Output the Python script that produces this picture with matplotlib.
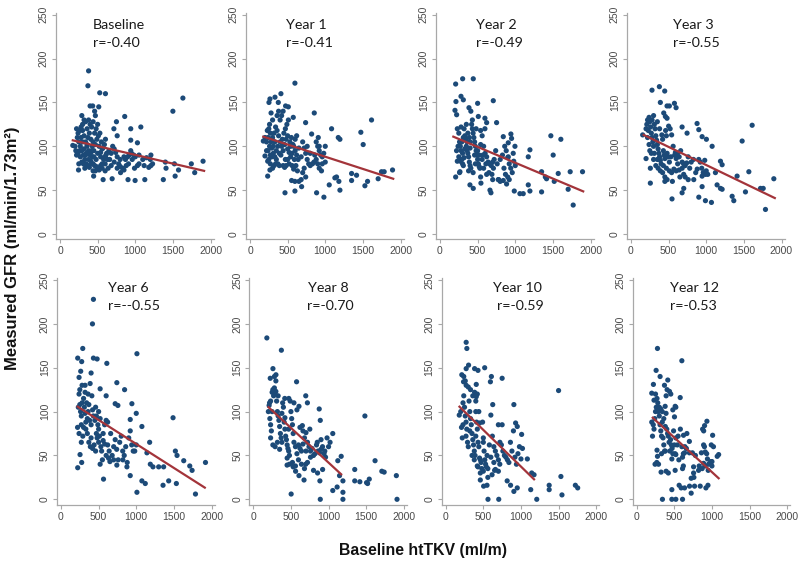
import matplotlib
matplotlib.use("Agg")
import matplotlib.pyplot as plt

# ---------------- data ----------------
panel_titles = ["Baseline", "Year 1", "Year 2", "Year 3", "Year 6", "Year 8", "Year 10", "Year 12"]
panel_r = ["r=-0.40", "r=-0.41", "r=-0.49", "r=-0.55", "r=--0.55", "r=-0.70", "r=-0.59", "r=-0.53"]

x_ticks = [0, 500, 1000, 1500, 2000]
y_ticks = [0, 50, 100, 150, 200, 250]

baseline_pts = [
    (380,186),(371,169),(528,161),(604,160),(515,145),(400,146),(434,146),(460,140),(470,135),(290,135),
    (1633,155),(1500,140),(860,134),(1074,122),(940,120),(750,128),(716,120),(760,112),(940,107),(1029,104),
    (604,108),(940,95),(693,63),(573,62),(904,62),(998,61),(1127,62),(1373,62),(1530,66),(1790,70),
    (1901,83),(1745,80),(1575,73),(1409,75),(1208,78),(1208,90),(1118,78),(1029,78),(850,73),(805,70),
    (447,66),(246,73),(170,101),
    (700,100),(720,97),(740,93),(760,88),(780,80),(800,77),(830,75),(870,85),(900,88),(920,90),
    (950,92),(960,85),(980,90),(1000,88),(1050,80),(1100,85),(1150,87),(1200,85),(1230,80),(1400,82),
    (1520,80),(880,78),(910,80),(650,95),(620,92),(660,85),(680,78),(640,75),(600,80),(560,75),
    (540,88),(520,100),(500,92),(480,85),(460,78),(440,72),(420,80),(400,90),(380,95),(360,100),
    (340,105),(320,112),(300,118),(280,122),(260,118),(240,115),(220,120),(230,110),(250,105),(270,100),
    (290,95),(310,90),(330,85),(350,80),(370,78),(390,76),(410,83),(430,88),(450,95),(470,102),
    (490,108),(510,112),(530,115),(550,105),(570,98),(590,102),(610,90),(630,85),(460,115),(420,122),
    (440,128),(380,130),(400,125),(360,120),(340,128),(300,105),(280,110),(260,95),(240,92),(220,90),
    (200,100),(210,95),(320,97),(350,92),(370,110),(390,115),(410,108),(430,100),(450,88),(480,77),
    (500,75),(520,73),(560,80),(580,85),(470,72),(310,80),(290,82),(270,88),(330,75),(250,80),
    (420,95),(440,105),(480,120),(500,125),(540,93),(560,97),(600,88),(380,85),(340,90),(300,125),
    (320,130),(360,102),(410,93),(440,80),(540,78),(600,72),(680,92),(720,82),(760,75),(800,85),
    (850,88),(990,75),(1050,90),(1180,76),
]

year1_pts = [
    (597,172),(411,160),(332,156),(265,154),(252,150),(376,150),(473,146),(509,145),(575,133),(854,138),
    (1615,130),(1084,120),(739,127),(620,112),(1473,116),(1504,102),(1173,110),(1195,108),(907,110),(819,114),
    (465,47),(885,47),(982,42),(597,49),(553,61),(597,60),(686,54),(1053,56),(1181,60),(1195,50),
    (1128,64),(1150,65),(1350,61),(1350,69),(1416,67),(1527,55),(1562,60),(1703,63),(1748,71),(1783,71),
    (1894,73),(235,66),(265,73),(177,106),(199,89),(235,83),
    (700,105),(720,98),(740,92),(760,85),(780,80),(800,78),(830,80),(860,90),(880,85),(900,100),
    (920,95),(940,90),(960,88),(980,92),(1000,100),(900,80),(920,75),(950,72),(700,70),(680,62),
    (650,60),(720,75),(740,65),(640,85),(620,90),(600,95),(580,100),(560,92),(540,88),(520,80),
    (500,85),(480,78),(460,76),(440,95),(420,100),(400,105),(380,112),(360,118),(340,122),(320,115),
    (300,110),(280,105),(260,100),(240,95),(220,105),(200,110),(230,118),(250,120),(270,115),(290,98),
    (310,92),(330,88),(350,85),(370,80),(390,78),(410,90),(430,108),(450,115),(470,120),(490,125),
    (510,130),(530,105),(550,110),(570,102),(590,85),(610,78),(630,72),(400,130),(420,135),(380,140),
    (440,140),(360,135),(300,130),(280,138),(260,125),(240,110),(220,95),(250,85),(270,90),(290,88),
    (310,100),(330,105),(350,95),(370,100),(390,92),(460,102),(480,108),(500,97),(520,93),(540,100),
    (560,78),(580,74),(300,75),(320,78),(340,80),(270,80),(440,78),(470,85),(500,112),(600,108),
    (650,98),(680,88),(760,100),(800,92),(850,82),(880,105),(920,100),(960,80),(1000,82),
]

year2_pts = [
    (208,171),(301,177),(442,177),(279,157),(310,153),(500,149),(708,152),(212,151),(199,141),(221,136),
    (385,144),(509,134),(597,132),(620,127),(752,127),(597,120),(1473,112),(1606,108),(1504,90),(1195,96),
    (1173,88),(996,100),(942,114),(951,109),(841,111),(907,104),(973,92),(907,88),
    (664,50),(677,47),(544,58),(398,56),(442,52),(774,62),(841,61),(885,57),(987,49),(1062,46),
    (1106,46),(1173,56),(1195,49),(1350,48),(1350,71),(1416,63),(1518,60),(1571,69),(1703,51),(1730,71),
    (1770,33),(1894,71),(1400,65),(208,65),(265,71),
    (230,120),(250,115),(260,105),(270,100),(280,95),(290,85),(300,80),(310,78),(320,120),(330,112),
    (340,108),(350,100),(360,95),(370,92),(380,88),(390,82),(400,78),(410,75),(420,125),(430,120),
    (440,115),(450,110),(460,105),(470,100),(480,95),(490,90),(500,85),(510,80),(520,77),(530,75),
    (540,118),(560,112),(580,100),(600,92),(620,88),(640,82),(660,80),(680,78),(700,82),(720,85),
    (740,95),(250,88),(270,83),(300,92),(330,97),(360,105),(390,110),(410,140),(430,130),(350,125),
    (310,110),(280,122),(240,100),(220,95),(230,83),(260,70),(380,72),(440,70),(470,80),(500,95),
    (540,102),(570,90),(610,80),(650,70),(690,68),(710,75),(760,80),(800,85),(830,90),(860,100),
    (880,95),(900,87),(920,80),(940,75),(960,70),(980,83),(1000,78),(850,75),(870,68),(900,65),
    (920,62),(780,62),(800,60),(700,62),(620,68),(580,75),(540,65),(460,90),(400,98),(370,115),
    (320,87),(290,105),(400,105),(480,120),(520,90),(560,85),
]

year3_pts = [
    (279,164),(377,168),(448,163),(390,150),(479,146),(510,146),(577,149),(599,144),(435,138),(457,134),
    (479,132),(679,122),(745,115),(878,126),(901,119),(945,111),(1002,108),(1078,100),(1477,106),(1610,124),
    (1189,83),(1211,79),(1122,70),(1144,56),(1189,52),(1211,51),(1344,43),(1366,38),(1410,66),(1566,71),
    (1521,48),(1721,52),(1757,52),(1787,28),(1898,63),
    (545,40),(679,47),(701,52),(901,42),(989,38),(1069,36),(834,62),(945,54),(945,66),(989,68),
    (257,58),(257,75),(200,86),(155,113),
    (200,120),(210,125),(220,130),(230,118),(240,133),(250,128),(260,122),(270,115),(280,110),(290,105),
    (300,100),(310,125),(320,120),(330,112),(340,107),(350,102),(360,97),(370,92),(380,88),(390,84),
    (400,80),(410,113),(420,108),(430,95),(440,90),(450,86),(460,118),(470,112),(480,92),(490,88),
    (500,123),(510,82),(520,120),(540,113),(560,100),(580,90),(600,86),(620,92),(640,88),(660,95),
    (680,82),(700,80),(720,78),(740,81),(760,88),(780,75),(800,82),(830,85),(860,70),(880,74),
    (900,85),(920,82),(940,75),(960,70),(980,84),(1000,72),(1020,68),(220,110),(250,95),(270,92),
    (300,85),(330,78),(360,75),(390,72),(420,70),(450,65),(480,62),(510,72),(540,70),(570,74),
    (600,72),(620,80),(650,65),(680,75),(720,65),(280,130),(300,135),(350,128),(380,120),(240,102),
    (310,92),(350,85),(430,78),(470,75),(530,88),(590,93),(640,73),(700,68),(550,60),(450,60),
    (760,62),
]

year6_pts = [
    (431,228),(418,200),(1009,166),(289,172),(222,161),(431,161),(480,160),(609,155),(275,157),(262,146),
    (400,144),(240,139),(387,132),(742,133),(320,130),(520,126),(600,118),(720,109),(756,107),(1000,98),
    (942,109),(845,125),(1489,93),(1075,83),(920,91),
    (1178,65),(1142,53),(1187,40),(1222,37),(1298,37),(1364,37),(1356,16),(1431,21),(1533,18),(1520,55),
    (1542,50),(1631,44),(1711,38),(1742,33),(1787,6),(1920,42),(1009,8),(1120,18),(1075,21),(920,27),
    (565,23),(222,36),(275,42),(253,51),(742,39),(822,45),(876,37),(631,47),(520,40),
    (220,82),(230,105),(240,120),(250,108),(260,100),(270,95),(280,110),(290,72),(300,115),(310,105),
    (320,98),(330,80),(340,110),(350,75),(360,100),(370,108),(380,90),(390,60),(400,85),(410,118),
    (420,102),(430,95),(440,62),(450,90),(460,105),(470,75),(480,70),(490,85),(500,65),(510,72),
    (520,92),(530,60),(540,55),(560,67),(580,85),(600,90),(620,62),(640,55),(660,75),(680,50),
    (700,60),(720,68),(740,57),(760,45),(780,65),(800,72),(820,55),(840,50),(860,60),(880,42),
    (900,70),(920,78),(940,62),(960,55),(980,55),(1000,62),(250,125),(280,130),(320,122),(360,120),
    (400,70),(240,75),(270,65),(300,82),(330,88),(370,65),(420,58),(460,55),(500,80),(550,45),
    (600,50),(650,43),(700,45),(580,63),(620,88),(470,95),(350,92),(270,85),(500,100),(560,75),
]

year8_pts = [
    (180,184),(373,170),(261,149),(301,142),(225,138),(575,134),(697,118),(418,115),(472,115),(607,106),
    (719,110),(216,110),(876,103),(1483,95),(1056,75),(751,80),(652,84),(890,90),
    (1168,49),(1123,44),(1146,27),(1191,21),(1191,8),(1056,10),(1114,14),(1191,0),(890,0),(885,21),
    (1348,34),(1348,21),(1416,20),(1505,19),(1541,23),(1618,44),(1708,32),(1739,31),(1901,27),(1910,0),
    (1519,18),(503,6),(562,32),(607,27),(674,22),(697,40),(800,33),(854,30),(921,34),(449,39),(530,37),
    (200,100),(210,107),(220,92),(230,85),(240,78),(250,122),(260,125),(270,118),(280,127),(290,120),
    (300,123),(310,112),(320,100),(330,95),(340,90),(350,83),(360,75),(370,70),(380,65),(390,110),
    (400,105),(410,88),(420,80),(430,72),(440,68),(450,62),(460,58),(470,55),(480,50),(490,112),
    (500,100),(510,92),(520,85),(530,75),(540,65),(560,60),(580,52),(600,62),(620,58),(640,55),
    (660,63),(680,70),(700,76),(720,65),(740,60),(760,55),(780,58),(800,50),(820,52),(840,62),
    (860,55),(880,53),(900,57),(920,60),(940,52),(960,48),(980,70),(1000,60),(1020,65),(230,70),
    (260,62),(290,60),(320,65),(350,57),(380,98),(420,93),(450,47),(480,40),(520,42),(560,38),
    (600,45),(640,40),(680,35),(720,42),(760,48),(300,135),(280,140),(330,118),(470,80),(540,110),
    (580,102),(620,82),(660,78),(700,55),(850,65),(900,68),(950,55),(250,100),(230,112),
]

year10_pts = [
    (272,179),(281,172),(304,153),(272,149),(214,142),(384,149),(429,147),(518,150),(607,140),(750,138),
    (594,134),(237,134),(272,130),(406,131),(384,122),(406,117),(1500,124),(625,108),(906,108),(929,87),
    (951,83),(1009,74),
    (1085,46),(1143,30),(1174,28),(1130,11),(1210,0),(1375,16),(1375,11),(1531,26),(1545,5),(1723,16),
    (1754,13),(951,13),(906,9),(817,21),(862,16),(504,15),(549,16),(562,0),(705,0),(460,22),
    (429,37),(616,28),(661,34),(719,40),
    (180,96),(200,100),(210,82),(220,70),(230,110),(240,118),(250,105),(260,95),(270,88),(280,80),
    (290,65),(300,60),(310,112),(320,100),(330,92),(340,85),(350,75),(360,68),(370,62),(380,55),
    (390,50),(400,100),(410,88),(420,80),(430,65),(440,60),(450,47),(460,45),(470,42),(480,35),
    (490,88),(500,70),(510,55),(520,45),(530,40),(540,37),(560,35),(580,62),(600,96),(620,72),
    (640,60),(660,55),(680,50),(700,45),(720,65),(740,62),(760,55),(780,50),(800,48),(820,45),
    (840,42),(860,65),(880,55),(900,78),(920,48),(940,40),(960,52),(980,60),(1000,46),(1020,58),
    (240,140),(260,135),(300,128),(330,125),(360,118),(400,112),(420,120),(440,100),(380,45),(420,38),
    (460,30),(500,32),(550,50),(600,48),(650,33),(700,32),(750,85),(700,85),(230,85),(270,72),
    (320,78),(350,50),(400,72),(450,87),(500,65),(560,25),(640,42),
]

year12_pts = [
    (276,172),(600,158),(258,147),(311,140),(369,130),(413,136),(404,125),(436,123),(453,120),(391,118),
    (578,116),(222,131),(200,121),(511,106),(378,106),(502,94),(933,89),(902,84),(876,80),(1009,73),
    (622,73),(667,75),(1089,51),(991,43),
    (342,0),(467,0),(520,0),(609,0),(467,11),(564,16),(591,13),(636,13),(724,7),(702,15),
    (769,15),(844,15),(947,16),(920,13),(724,24),(756,30),(822,33),(756,37),(609,35),(511,33),
    (391,32),(324,31),(267,42),(244,40),(276,49),(467,46),(520,51),(609,48),(636,53),(911,54),
    (956,40),(1000,38),(991,62),(889,62),(889,41),
    (200,88),(210,72),(220,85),(230,80),(240,92),(250,100),(260,105),(270,115),(280,110),(290,100),
    (300,95),(310,85),(320,78),(330,72),(340,88),(350,70),(360,62),(370,55),(380,83),(390,98),
    (400,80),(410,75),(420,72),(430,65),(440,55),(450,68),(460,62),(470,58),(480,52),(490,78),
    (500,62),(510,52),(520,70),(540,62),(560,45),(580,80),(600,60),(620,52),(640,60),(660,58),
    (700,66),(740,53),(780,50),(860,53),(890,78),(900,60),(930,52),(950,33),(980,42),(1020,60),
    (1070,49),(230,113),(250,120),(300,105),(340,100),(270,56),(290,40),(330,52),(380,55),(420,30),
    (480,102),(520,105),(550,72),(620,38),(700,53),(760,25),(830,38),(870,35),(910,38),(940,46),
    (1000,43),(280,102),(320,103),(360,92),
]

panel_points = [baseline_pts, year1_pts, year2_pts, year3_pts,
                year6_pts, year8_pts, year10_pts, year12_pts]

# fitted line endpoints
fit_x = [(170, 1915), (177, 1903), (177, 1903), (168, 1911),
         (222, 1911), (202, 1168), (183, 1174), (213, 1089)]
fit_y = [(106.8, 72), (111, 63), (111, 48.6), (113, 41),
         (105.6, 13.3), (105, 28.5), (105.6, 22.8), (93, 24)]

# ---------------- layout ----------------
W, H = 800, 561
fig = plt.figure(figsize=(W / 100, H / 100), dpi=100)

xlim = (-55, 2040)
ylim = (-6, 252)
x_scale = 150.5 / 2000.0   # px per data unit
y_scale = 0.877            # px per data unit

zero_px_x = [60, 250, 440, 631, 61, 253.3, 445.7, 636.7]
zero_px_y = [234, 234, 234, 234, 499.3, 499.3, 499.3, 499.3]

# text positions in data coordinates
title_x = [439, 477, 477, 560, 622, 725, 631, 444]
r_x = [439, 477, 477, 560, 622, 712, 684, 444]
title_y = [238.6, 238.6, 238.6, 238.6, 241, 241, 241, 241]
r_y = [218, 218, 218, 218, 220, 220, 220, 220]

dot_color = "#1c4a78"
line_color = "#a3343a"
axis_color = "#a8a8a8"
tick_color = "#4a4a4a"

for i in range(8):
    left_px = zero_px_x[i] + xlim[0] * x_scale
    width_px = (xlim[1] - xlim[0]) * x_scale
    bottom_px = zero_px_y[i] - ylim[0] * y_scale
    height_px = (ylim[1] - ylim[0]) * y_scale
    ax = fig.add_axes([left_px / W, (H - bottom_px) / H, width_px / W, height_px / H])

    pts = panel_points[i]
    xs = [p[0] for p in pts]
    ys = [p[1] for p in pts]
    ax.scatter(xs, ys, s=14, color=dot_color, edgecolors="none", zorder=2)
    ax.plot(fit_x[i], fit_y[i], color=line_color, lw=1.6, zorder=3)

    ax.set_xlim(*xlim)
    ax.set_ylim(*ylim)
    ax.set_xticks(x_ticks)
    ax.set_yticks(y_ticks)
    ax.set_xticklabels([str(v) for v in x_ticks])
    ax.set_yticklabels([str(v) for v in y_ticks], rotation=90, va="center")
    for s in ["top", "right"]:
        ax.spines[s].set_visible(False)
    for s in ["left", "bottom"]:
        ax.spines[s].set_color(axis_color)
        ax.spines[s].set_linewidth(0.9)
    ax.tick_params(axis="both", colors=axis_color, labelcolor=tick_color,
                   labelsize=7.5, length=3, width=0.8, pad=2)
    for lab in ax.get_xticklabels() + ax.get_yticklabels():
        lab.set_family("Liberation Sans")
    ax.patch.set_alpha(0)

    ax.text(title_x[i], title_y[i], panel_titles[i], ha="left", va="center",
            fontsize=10.3, family="Lato", color="#1a1a1a")
    ax.text(r_x[i], r_y[i], panel_r[i], ha="left", va="center",
            fontsize=10.3, family="Lato", color="#1a1a1a")

fig.text(13 / W, 1 - 248 / H, "Measured GFR (ml/min/1.73m\u00b2)", rotation=90,
         ha="center", va="center", fontsize=12, fontweight="bold",
         family="Liberation Sans", color="#111111")
fig.text(423 / W, 1 - 550 / H, "Baseline htTKV (ml/m)", ha="center", va="center",
         fontsize=11.4, fontweight="bold", family="Liberation Sans", color="#111111")

fig.savefig("out.png", dpi=100)
